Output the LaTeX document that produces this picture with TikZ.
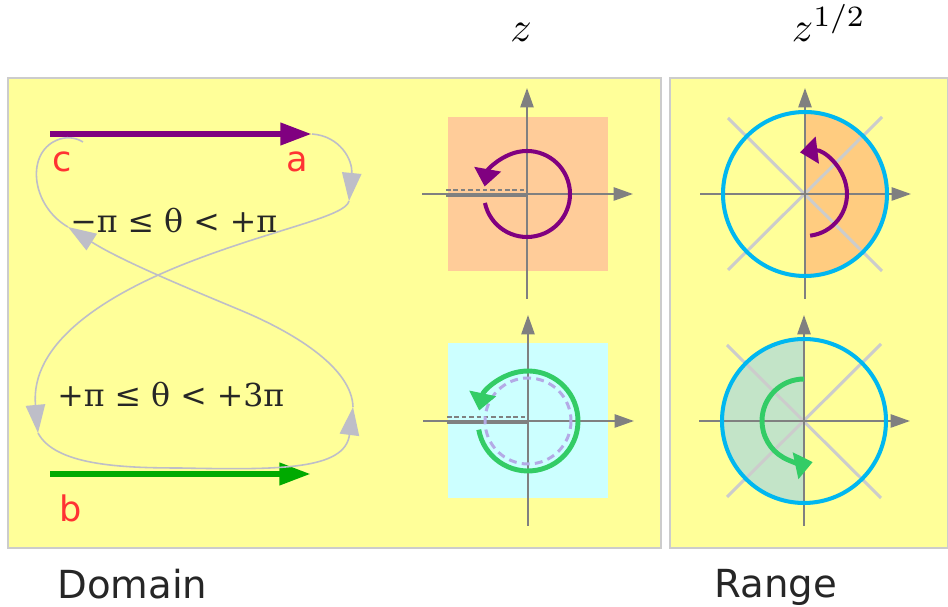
\documentclass[tikz,border=0pt]{standalone}
\usepackage{fontspec}
\setsansfont{DejaVu Sans}
\newfontfamily\anglefont{DejaVu Serif}
\usepackage{tikz}
\usetikzlibrary{arrows.meta, calc, positioning}
\definecolor{panelYellow}{RGB}{255,255,153}
\definecolor{panelEdge}{RGB}{204,204,204}
\definecolor{sheetPurple}{RGB}{128,0,128}
\definecolor{sheetGreen}{RGB}{0,170,0}
\definecolor{spinGreen}{RGB}{51,204,102}
\definecolor{tagRed}{RGB}{255,51,51}
\definecolor{axisGray}{RGB}{128,128,128}
\definecolor{tourGray}{RGB}{190,190,200}
\definecolor{diagGray}{RGB}{204,204,204}
\definecolor{peach}{RGB}{255,204,153}
\definecolor{paleCyan}{RGB}{204,255,255}
\definecolor{ringBlue}{RGB}{0,183,240}
\definecolor{halfOrange}{RGB}{255,204,128}
\definecolor{halfGreen}{RGB}{195,228,200}
\definecolor{dashLilac}{RGB}{180,170,230}

\begin{document}
\begin{tikzpicture}[
    x=0.02cm, y=-0.02cm,
    panel/.style={fill=panelYellow, draw=panelEdge, line width=0.6pt},
    axis/.style={-{Triangle[length=11pt, width=7.5pt]}, axisGray, line width=1.1pt},
    cut/.style={axisGray, line width=2.2pt},
    cutdash/.style={axisGray, dash pattern=on 2.6pt off 1.6pt, line width=1pt},
    sheet/.style={-{Triangle[length=18pt, width=12pt]}, line width=3.8pt},
    tour/.style={-{Triangle[length=16pt, width=11pt]}, tourGray, line width=0.9pt},
    spin/.style={-{Triangle[length=10pt, width=15pt]}, line width=2.3pt},
    ring/.style={ringBlue, line width=2.3pt},
    diag/.style={diagGray, line width=1.7pt},
    tag/.style={font=\sffamily\fontsize{20}{24}\selectfont, text=tagRed, inner sep=0pt},
    caption/.style={font=\sffamily\fontsize{22}{27}\selectfont, text=black!85, inner sep=0pt},
    band/.style={font=\anglefont\fontsize{18}{22}\selectfont, text=black!85, inner sep=0pt},
    title/.style={scale=2.4, inner sep=0pt}
]
\useasboundingbox (0,0) rectangle (948,607);

% ---- panels ----
\draw[panel] (8,78) rectangle (661,548);
\draw[panel] (670,78) rectangle (947.5,548);

% ---- origins of the four planes ----
\coordinate (zA) at (527,194);
\coordinate (zB) at (528,421);
\coordinate (wA) at (805,194);
\coordinate (wB) at (804,421);

% ---- domain: the two sheets and the tour between them ----
\coordinate (cStart) at (50,134);
\coordinate (aTip) at (312,134);
\coordinate (bStart) at (50,474);
\coordinate (bTip) at (311,474);
\coordinate (t1) at (349,201);
\coordinate (t2) at (38,433);
\coordinate (t3) at (353,407);
\coordinate (t4) at (68,227);
\coordinate (t5) at (83,142);

\draw[sheet, sheetPurple] (cStart) -- (aTip);
\draw[sheet, sheetGreen] (bStart) -- (bTip);

\draw[tour] (aTip) .. controls (340,136) and (353,160) .. (t1);
\draw[tour] (t1) .. controls (346,216) and (280,228) .. (200,258)
    .. controls (100,295) and (30,345) .. (t2);
\draw[tour] (t2) .. controls (55,465) and (120,468) .. (180,468)
    .. controls (280,470) and (345,470) .. (t3);
\draw[tour] (t3) .. controls (352,370) and (300,335) .. (240,310)
    .. controls (180,285) and (120,260) .. (t4);
\draw[tourGray, line width=0.9pt] (t4) .. controls (30,205) and (25,150) .. (60,139)
    .. controls (70,136) and (78,139) .. (t5);

\node[tag] (cTag) at (62,162) {c};
\node[tag] (aTag) at (297,162) {a};
\node[tag] (bTag) at (71,508) {b};

\node[band, anchor=base west] (upper) at (70,233) {−π ≤ θ < +π};
\node[band, anchor=base west] (lower) at (57,407) {+π ≤ θ < +3π};

% ---- z planes ----
\fill[peach] ($(zA)+(-79,-77)$) rectangle ($(zA)+(81,77)$);
\fill[paleCyan] ($(zB)+(-80,-78)$) rectangle ($(zB)+(80,77)$);

% ---- range: half discs and diagonals ----
\fill[halfOrange] ($(wA)+(0,-82)$) arc[start angle=-90, end angle=90, radius=82] -- cycle;
\fill[halfGreen] ($(wB)+(0,-82)$) arc[start angle=-90, end angle=-270, radius=82] -- cycle;
\foreach \o in {wA,wB}{%
  \draw[diag] ($(\o)+(-77,-76)$) -- ($(\o)+(77,77)$);
  \draw[diag] ($(\o)+(-77,76)$) -- ($(\o)+(77,-77)$);
}

% ---- axes ----
\foreach \o in {zA,zB,wA,wB}{%
  \draw[axis] ($(\o)+(-105,0)$) -- ($(\o)+(106,0)$);
  \draw[axis] ($(\o)+(0,105)$) -- ($(\o)+(0,-106)$);
}

% ---- branch cut ----
\foreach \o in {zA,zB}{%
  \draw[cut] ($(\o)+(-81,1.5)$) -- ($(\o)+(0,1.5)$);
  \draw[cutdash] ($(\o)+(-81,-4)$) -- ($(\o)+(0,-4)$);
}

% ---- turns ----
\draw[dashLilac, line width=1.7pt, dash pattern=on 4.5pt off 3pt] (zB) circle[radius=43];
\draw[spin, sheetPurple] ($(zA)+(168:43)$) arc[start angle=168, end angle=-170, radius=43];
\draw[spin, spinGreen, line width=2.8pt] ($(zB)+(170:50)$) arc[start angle=170, end angle=-168, radius=50];

\draw[ring] (wA) circle[radius=82];
\draw[ring] (wB) circle[radius=82];
\draw[spin, sheetPurple] ($(wA)+(83:42)$) arc[start angle=83, end angle=-97, radius=42];
\draw[spin, spinGreen, line width=2.8pt] ($(wB)+(-90:42)$) arc[start angle=-90, end angle=-282, radius=42];

% ---- titles ----
\node[title, anchor=base] (zTitle) at (521,42) {$z$};
\node[title, anchor=base west] (wTitle) at (791,42) {$z^{1/2}$};
\node[caption, anchor=base west] (domain) at (57,599) {Domain};
\node[caption, anchor=base west] (range) at (714,598) {Range};
\end{tikzpicture}
\end{document}
